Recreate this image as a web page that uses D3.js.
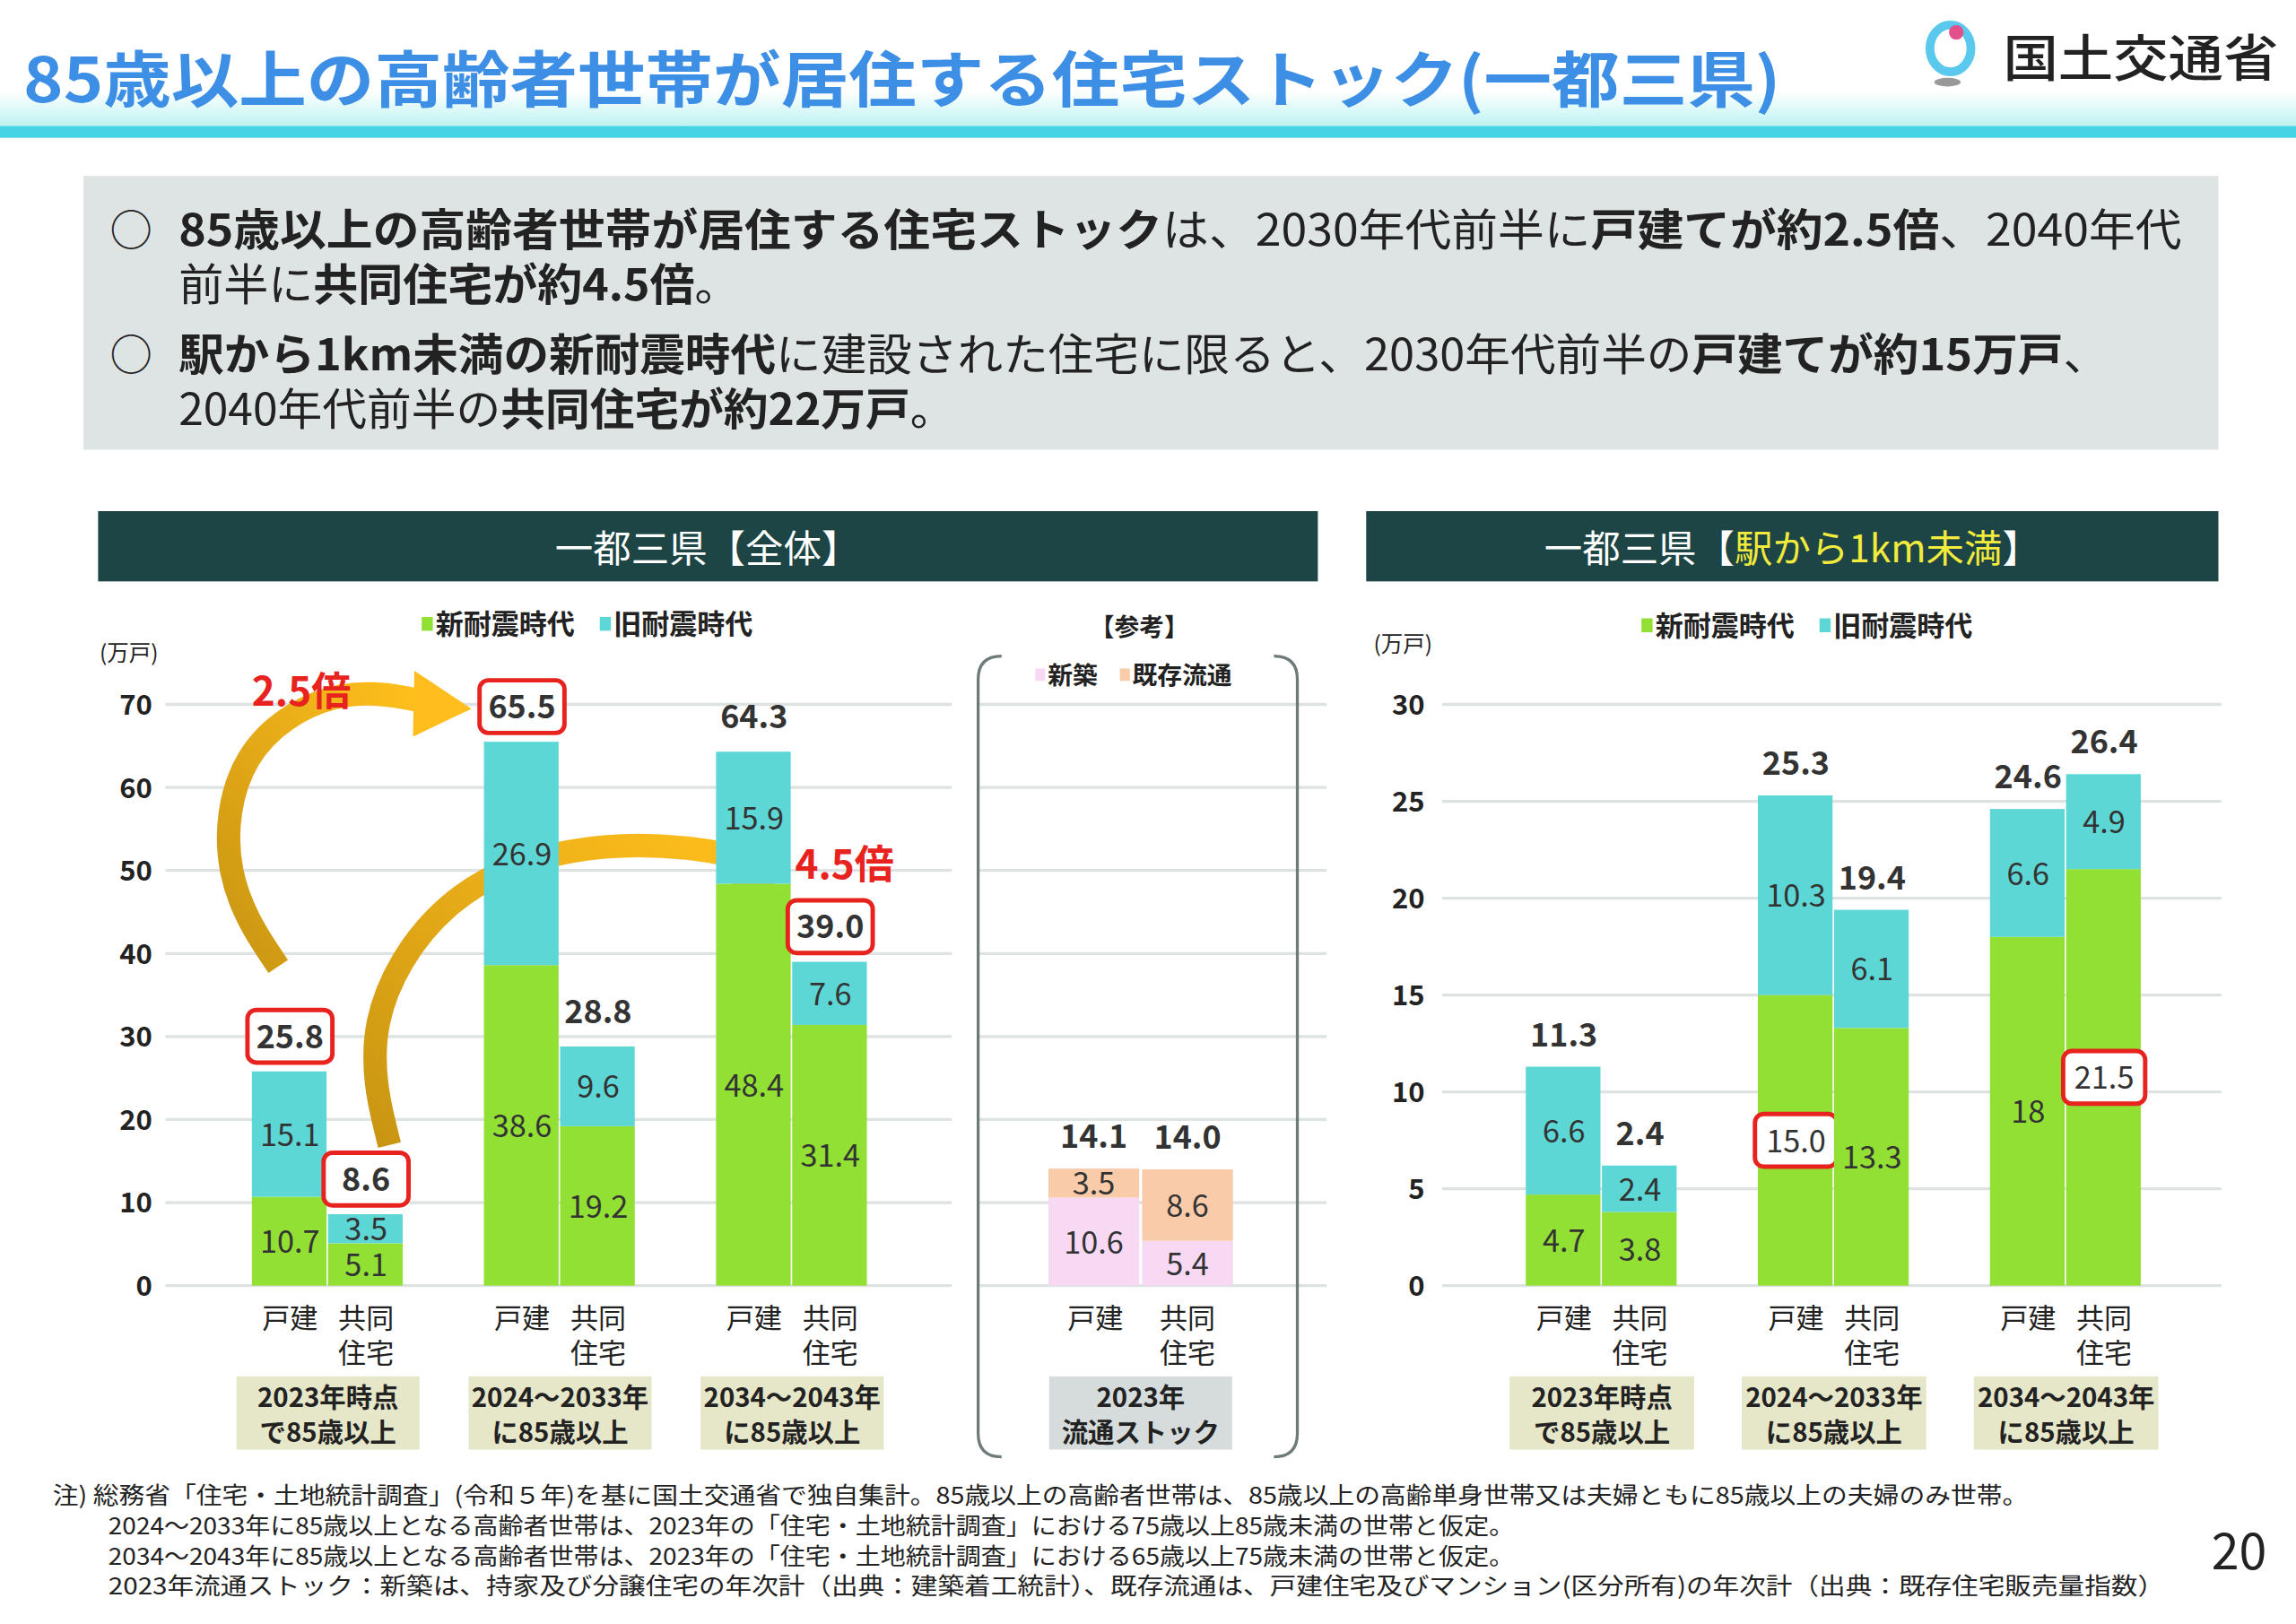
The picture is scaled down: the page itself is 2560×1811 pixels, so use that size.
<!DOCTYPE html>
<html>
<head>
<meta charset="UTF-8" />
<script src="https://d3js.org/d3.v7.min.js"></script>
<style>
  body { margin: 0; background: #fff; }
  svg text { font-family: "Noto Sans CJK JP", sans-serif; }
</style>
</head>
<body>
<svg id="chart" width="2560" height="1811" viewBox="0 0 1568 1109"></svg>
<script>
// データ
const types = ["戸建", "共同住宅"];
const leftGroups = ["2023年時点|で85歳以上", "2024～2033年|に85歳以上", "2034～2043年|に85歳以上"];
const leftNew = [[10.7, 5.1], [38.6, 19.2], [48.4, 31.4]];
const leftOld = [[15.1, 3.5], [26.9, 9.6], [15.9, 7.6]];
const leftTotals = [["25.8", "8.6"], ["65.5", "28.8"], ["64.3", "39.0"]];
const leftTicks = [0, 10, 20, 30, 40, 50, 60, 70];

const refGroup = "2023年|流通ストック";
const refNew = [10.6, 5.4];
const refExist = [3.5, 8.6];
const refTotals = ["14.1", "14.0"];

const rightGroups = leftGroups;
const rightNew = [[4.7, 3.8], [15.0, 13.3], [18, 21.5]];
const rightOld = [[6.6, 2.4], [10.3, 6.1], [6.6, 4.9]];
const rightNewLabels = [["4.7", "3.8"], ["15.0", "13.3"], ["18", "21.5"]];
const rightTotals = [["11.3", "2.4"], ["25.3", "19.4"], ["24.6", "26.4"]];
const rightTicks = [0, 5, 10, 15, 20, 25, 30];

const GREEN = "#92e033", CYAN = "#5dd7d6", PINK = "#f7d9f4", PEACH = "#f9cba9", RED = "#e8221f";

const svg = d3.select("#chart");

// ヘッダー
const band = svg.append("defs").append("linearGradient").attr("id", "band").attr("x1", 0).attr("x2", 0).attr("y1", 0).attr("y2", 1);
band.append("stop").attr("offset", 0).attr("stop-color", "#ffffff");
band.append("stop").attr("offset", 1).attr("stop-color", "#b8f2f0");
svg.append("rect").attr("x", 0).attr("y", 62).attr("width", 1568).attr("height", 26).attr("fill", "url(#band)");
svg.append("rect").attr("x", 0).attr("y", 86).attr("width", 1568).attr("height", 8).attr("fill", "#45d3e6");
svg.append("text").attr("x", 16).attr("y", 70).attr("font-size", 42).attr("font-weight", 700)
  .attr("textLength", 1200).attr("lengthAdjust", "spacingAndGlyphs")
  .attr("fill", "#3d8fe6").text("85歳以上の高齢者世帯が居住する住宅ストック(一都三県)");
svg.append("ellipse").attr("cx", 1332).attr("cy", 33).attr("rx", 14).attr("ry", 16).attr("fill", "none").attr("stroke", "#5bc8ee").attr("stroke-width", 6);
svg.append("circle").attr("cx", 1336).attr("cy", 22).attr("r", 5).attr("fill", "#e0508a");
svg.append("ellipse").attr("cx", 1330).attr("cy", 56).attr("rx", 9).attr("ry", 3).attr("fill", "#999");
svg.append("text").attr("x", 1368).attr("y", 52).attr("font-size", 34).attr("font-weight", 500).attr("fill", "#222")
  .attr("textLength", 188).attr("lengthAdjust", "spacingAndGlyphs").text("国土交通省");

// 要旨ボックス（*…* は太字）
svg.append("rect").attr("x", 57).attr("y", 120).attr("width", 1458).attr("height", 187).attr("fill", "#dee3e3");
const summary = [
  [122, 168, 1368, "*85歳以上の高齢者世帯が居住する住宅ストック*は、2030年代前半に*戸建てが約2.5倍*、2040年代"],
  [122, 205, 383, "前半に*共同住宅が約4.5倍*。"],
  [122, 253, 1318, "*駅から1km未満の新耐震時代*に建設された住宅に限ると、2030年代前半の*戸建てが約15万戸*、"],
  [122, 290, 530, "2040年代前半の*共同住宅が約22万戸*。"]
];
[168, 253].forEach(y => svg.append("text").attr("x", 75).attr("y", y).attr("font-size", 29).attr("fill", "#222").text("○"));
summary.forEach(([x, y, len, t]) => {
  const tx = svg.append("text").attr("x", x).attr("y", y).attr("font-size", 30).attr("fill", "#222")
    .attr("textLength", len).attr("lengthAdjust", "spacingAndGlyphs");
  t.split("*").forEach((s, i) => tx.append("tspan").attr("font-weight", i % 2 ? 700 : 400).text(s));
});

// パネル見出し
svg.append("rect").attr("x", 67).attr("y", 349).attr("width", 833).attr("height", 48).attr("fill", "#1d4545");
svg.append("text").attr("x", 483).attr("y", 384).attr("text-anchor", "middle").attr("font-size", 26).attr("fill", "#fff").text("一都三県【全体】");
svg.append("rect").attr("x", 933).attr("y", 349).attr("width", 582).attr("height", 48).attr("fill", "#1d4545");
const rh = svg.append("text").attr("x", 1224).attr("y", 384).attr("text-anchor", "middle").attr("font-size", 26).attr("fill", "#fff");
rh.append("tspan").text("一都三県【");
rh.append("tspan").attr("fill", "#f2ea3c").text("駅から1km未満");
rh.append("tspan").text("】");

function legend(items, x, y, size) {
  let cx = x;
  items.forEach(([c, t]) => {
    svg.append("rect").attr("x", cx).attr("y", y - size * 0.62).attr("width", size * 0.4).attr("height", size * 0.5).attr("fill", c);
    const tx = svg.append("text").attr("x", cx + size * 0.5).attr("y", y).attr("font-size", size).attr("font-weight", 700).attr("fill", "#222").text(t);
    cx += size * 0.5 + tx.node().getComputedTextLength() + size * 0.9;
  });
}

function box(cx, cy, w, h) {
  svg.append("rect").attr("x", cx - w / 2).attr("y", cy - h / 2).attr("width", w).attr("height", h)
    .attr("rx", 6).attr("fill", "#fff").attr("stroke", RED).attr("stroke-width", 3);
}

function groupLabel(cx, yTop, w, label, fill) {
  svg.append("rect").attr("x", cx - w / 2).attr("y", yTop).attr("width", w).attr("height", 50).attr("fill", fill);
  label.split("|").forEach((s, i) => svg.append("text").attr("x", cx).attr("y", yTop + 21 + i * 24)
    .attr("text-anchor", "middle").attr("font-size", 18).attr("font-weight", 700).attr("fill", "#222").text(s));
}

function typeLabels(x0, x1) {
  svg.append("text").attr("x", x0).attr("y", 907).attr("text-anchor", "middle").attr("font-size", 19).attr("fill", "#222").text("戸建");
  svg.append("text").attr("x", x1).attr("y", 907).attr("text-anchor", "middle").attr("font-size", 19).attr("fill", "#222").text("共同");
  svg.append("text").attr("x", x1).attr("y", 931).attr("text-anchor", "middle").attr("font-size", 19).attr("fill", "#222").text("住宅");
}

// ===== 左チャート =====
const yL = d3.scaleLinear().domain([0, 70]).range([878, 481]);
svg.append("g").selectAll("line").data(leftTicks).join("line")
  .attr("x1", 113).attr("x2", 650).attr("y1", d => yL(d)).attr("y2", d => yL(d)).attr("stroke", "#dde2e2").attr("stroke-width", 2);
svg.append("g").selectAll("line").data(leftTicks).join("line")
  .attr("x1", 668).attr("x2", 906).attr("y1", d => yL(d)).attr("y2", d => yL(d)).attr("stroke", "#dde2e2").attr("stroke-width", 2);
svg.append("g").selectAll("text").data(leftTicks).join("text")
  .attr("x", 104).attr("y", d => yL(d) + 7).attr("text-anchor", "end").attr("font-size", 19).attr("font-weight", 700).attr("fill", "#222").text(d => d);
svg.append("text").attr("x", 68).attr("y", 451).attr("font-size", 15).attr("fill", "#222").text("(万戸)");
legend([[GREEN, "新耐震時代"], [CYAN, "旧耐震時代"]], 288, 433, 19);

const gL = d3.scalePoint().domain(leftGroups).range([224, 541]);
const bw = 52;

// 矢印
const arrowGrad = svg.select("defs").append("linearGradient").attr("id", "arr").attr("x1", 0).attr("x2", 1).attr("y1", 1).attr("y2", 0);
arrowGrad.append("stop").attr("offset", 0).attr("stop-color", "#c99512");
arrowGrad.append("stop").attr("offset", 1).attr("stop-color", "#ffbf1c");
function arrow(pts, head) {
  svg.append("path").attr("d", d3.line().curve(d3.curveBasis)(pts)).attr("fill", "none")
    .attr("stroke", "url(#arr)").attr("stroke-width", 16).attr("stroke-linecap", "butt");
  svg.append("path").attr("d", d3.line()(head) + "Z").attr("fill", "#ffbe1e");
}
arrow([[190, 660], [150, 600], [160, 510], [230, 468], [285, 478]], [[283, 458], [322, 484], [282, 503]]);
arrow([[266, 782], [246, 700], [300, 610], [390, 575], [480, 578], [520, 590]], [[512, 576], [540, 620], [498, 607]]);

leftGroups.forEach((g, gi) => {
  const c = gL(g);
  const xs = [c - bw, c];
  types.forEach((t, ti) => {
    const n = leftNew[gi][ti], o = leftOld[gi][ti];
    svg.append("rect").attr("x", xs[ti]).attr("width", bw - 1).attr("y", yL(n)).attr("height", yL(0) - yL(n)).attr("fill", GREEN);
    svg.append("rect").attr("x", xs[ti]).attr("width", bw - 1).attr("y", yL(n + o)).attr("height", yL(n) - yL(n + o)).attr("fill", CYAN);
    svg.append("text").attr("x", xs[ti] + bw / 2).attr("y", yL(n / 2) + 8).attr("text-anchor", "middle").attr("font-size", 21).attr("fill", "#333").text(n.toFixed(1));
    svg.append("text").attr("x", xs[ti] + bw / 2).attr("y", yL(n + o / 2) + 8).attr("text-anchor", "middle").attr("font-size", 21).attr("fill", "#333").text(o.toFixed(1));
    const ty = yL(n + o) - 16;
    if ((gi === 0) || (gi === 1 && ti === 0) || (gi === 2 && ti === 1)) box(xs[ti] + bw / 2, ty - 8, 58, 36);
    svg.append("text").attr("x", xs[ti] + bw / 2).attr("y", ty).attr("text-anchor", "middle").attr("font-size", 22).attr("font-weight", 700).attr("fill", "#333").text(leftTotals[gi][ti]);
  });
  typeLabels(c - bw / 2, c + bw / 2);
  groupLabel(c, 940, 125, g, "#e6e6c9");
});
svg.append("text").attr("x", 172).attr("y", 482).attr("font-size", 27).attr("font-weight", 700).attr("fill", RED).text("2.5倍");
svg.append("text").attr("x", 543).attr("y", 600).attr("font-size", 27).attr("font-weight", 700).attr("fill", RED).text("4.5倍");

// 参考
svg.append("path").attr("d", "M684,448 Q668,448 668,464 L668,979 Q668,995 684,995")
  .attr("fill", "none").attr("stroke", "#6e7a7a").attr("stroke-width", 2);
svg.append("path").attr("d", "M870,448 Q886,448 886,464 L886,979 Q886,995 870,995")
  .attr("fill", "none").attr("stroke", "#6e7a7a").attr("stroke-width", 2);
svg.append("text").attr("x", 778).attr("y", 434).attr("text-anchor", "middle").attr("font-size", 17).attr("font-weight", 700).attr("fill", "#222").text("【参考】");
legend([[PINK, "新築"], [PEACH, "既存流通"]], 707, 467, 17);
const refX = [716, 780];
types.forEach((t, ti) => {
  const n = refNew[ti], e = refExist[ti];
  svg.append("rect").attr("x", refX[ti]).attr("width", 62).attr("y", yL(n)).attr("height", yL(0) - yL(n)).attr("fill", PINK);
  svg.append("rect").attr("x", refX[ti]).attr("width", 62).attr("y", yL(n + e)).attr("height", yL(n) - yL(n + e)).attr("fill", PEACH);
  svg.append("text").attr("x", refX[ti] + 31).attr("y", yL(n / 2) + 8).attr("text-anchor", "middle").attr("font-size", 21).attr("fill", "#333").text(n.toFixed(1));
  svg.append("text").attr("x", refX[ti] + 31).attr("y", yL(n + e / 2) + 8).attr("text-anchor", "middle").attr("font-size", 21).attr("fill", "#333").text(e.toFixed(1));
  svg.append("text").attr("x", refX[ti] + 31).attr("y", yL(n + e) - 14).attr("text-anchor", "middle").attr("font-size", 22).attr("font-weight", 700).attr("fill", "#333").text(refTotals[ti]);
});
typeLabels(748, 811);
groupLabel(779, 940, 125, refGroup, "#d6dcdc");

// ===== 右チャート =====
const yR = d3.scaleLinear().domain([0, 30]).range([878, 481]);
svg.append("g").selectAll("line").data(rightTicks).join("line")
  .attr("x1", 985).attr("x2", 1517).attr("y1", d => yR(d)).attr("y2", d => yR(d)).attr("stroke", "#dde2e2").attr("stroke-width", 2);
svg.append("g").selectAll("text").data(rightTicks).join("text")
  .attr("x", 973).attr("y", d => yR(d) + 7).attr("text-anchor", "end").attr("font-size", 19).attr("font-weight", 700).attr("fill", "#222").text(d => d);
svg.append("text").attr("x", 938).attr("y", 445).attr("font-size", 15).attr("fill", "#222").text("(万戸)");
legend([[GREEN, "新耐震時代"], [CYAN, "旧耐震時代"]], 1121, 434, 19);

const gR = d3.scalePoint().domain(rightGroups).range([1094, 1411]);
rightGroups.forEach((g, gi) => {
  const c = gR(g);
  const xs = [c - bw, c];
  types.forEach((t, ti) => {
    const n = rightNew[gi][ti], o = rightOld[gi][ti];
    svg.append("rect").attr("x", xs[ti]).attr("width", bw - 1).attr("y", yR(n)).attr("height", yR(0) - yR(n)).attr("fill", GREEN);
    svg.append("rect").attr("x", xs[ti]).attr("width", bw - 1).attr("y", yR(n + o)).attr("height", yR(n) - yR(n + o)).attr("fill", CYAN);
    const ly = yR(n / 2) + 8;
    if ((gi === 1 && ti === 0) || (gi === 2 && ti === 1)) box(xs[ti] + bw / 2, ly - 8, 56, 36);
    svg.append("text").attr("x", xs[ti] + bw / 2).attr("y", ly).attr("text-anchor", "middle").attr("font-size", 21).attr("fill", "#333").text(rightNewLabels[gi][ti]);
    svg.append("text").attr("x", xs[ti] + bw / 2).attr("y", yR(n + o / 2) + 8).attr("text-anchor", "middle").attr("font-size", 21).attr("fill", "#333").text(o.toFixed(1));
    svg.append("text").attr("x", xs[ti] + bw / 2).attr("y", yR(n + o) - 14).attr("text-anchor", "middle").attr("font-size", 22).attr("font-weight", 700).attr("fill", "#333").text(rightTotals[gi][ti]);
  });
  typeLabels(c - bw / 2, c + bw / 2);
  groupLabel(c, 940, 126, g, "#e6e6c9");
});

// 注記
const notes = [
  [36, 1027, 1349, "注)  総務省「住宅・土地統計調査」(令和５年)を基に国土交通省で独自集計。85歳以上の高齢者世帯は、85歳以上の高齢単身世帯又は夫婦ともに85歳以上の夫婦のみ世帯。"],
  [74, 1048, 960, "2024～2033年に85歳以上となる高齢者世帯は、2023年の「住宅・土地統計調査」における75歳以上85歳未満の世帯と仮定。"],
  [74, 1069, 960, "2034～2043年に85歳以上となる高齢者世帯は、2023年の「住宅・土地統計調査」における65歳以上75歳未満の世帯と仮定。"],
  [74, 1089, 1404, "2023年流通ストック：新築は、持家及び分譲住宅の年次計（出典：建築着工統計）、既存流通は、戸建住宅及びマンション(区分所有)の年次計（出典：既存住宅販売量指数）"]
];
notes.forEach(([x, y, len, t]) => svg.append("text").attr("x", x).attr("y", y).attr("font-size", 16).attr("fill", "#222")
  .attr("textLength", len).attr("lengthAdjust", "spacingAndGlyphs").text(t));
svg.append("text").attr("x", 1548).attr("y", 1072).attr("text-anchor", "end").attr("font-size", 34).attr("fill", "#222").text("20");
</script>
</body>
</html>
